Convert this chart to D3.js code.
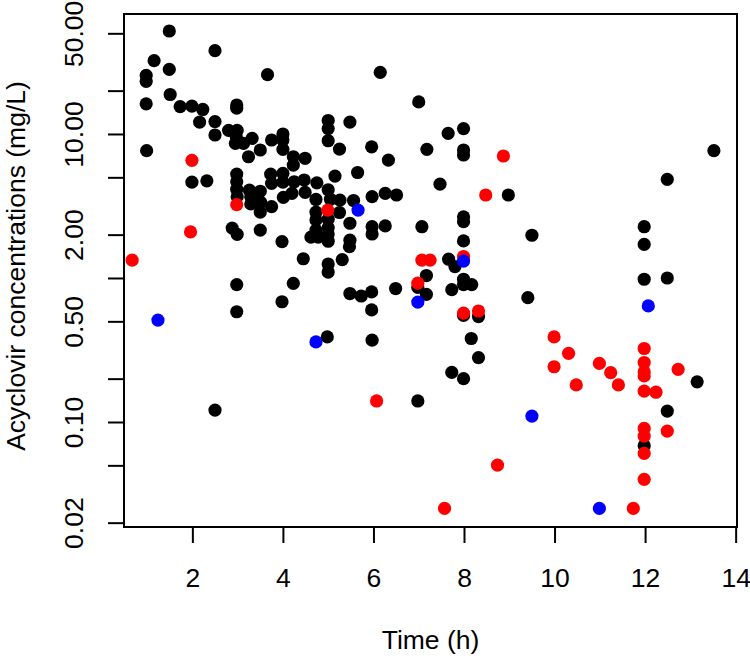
<!DOCTYPE html>
<html>
<head>
<meta charset="utf-8">
<script src="https://cdn.jsdelivr.net/npm/d3@7"></script>
<style>
  html, body { margin: 0; padding: 0; background: #fff; }
  text { font-family: "Liberation Sans", Arial, sans-serif; }
</style>
</head>
<body>
<svg id="chart" width="750" height="658"></svg>
<script>
// ---- data: [time (h), concentration (mg/L)] ----
const blackPoints = [
  [1.49, 51.9], [2.50, 37.9], [1.155, 32.3], [0.98, 25.5], [0.98, 23.2], [1.49, 28.1], [1.51, 18.8],
  [0.98, 16.2], [1.73, 15.5], [1.99, 15.6], [2.23, 14.8], [2.16, 12.1], [2.50, 12.2], [2.50, 9.84],
  [2.80, 10.6], [0.99, 7.66], [1.99, 4.63], [2.32, 4.73], [2.50, 0.121],
  [3.66, 25.8], [6.15, 26.8],
  [2.98, 15.9], [2.98, 15.1], [2.99, 10.6], [2.97, 9.57], [2.95, 8.61], [3.13, 8.61], [3.32, 9.33],
  [2.98, 5.27], [2.98, 4.66], [2.98, 4.13], [2.99, 3.67], [2.88, 2.22], [2.99, 2.01], [2.98, 0.90], [2.98, 0.583],
  [3.24, 6.95], [3.5, 7.74], [3.26, 4.08], [3.29, 3.67], [3.29, 3.27], [3.5, 4.0], [3.51, 3.35], [3.5, 2.87], [3.5, 2.15],
  [3.75, 9.08], [3.75, 3.13], [3.75, 4.54], [3.73, 5.27],
  [4.0, 10.0], [4.0, 9.08], [4.0, 7.82], [4.0, 5.33], [4.0, 4.63], [4.01, 3.63], [3.98, 1.79], [3.98, 0.684],
  [4.23, 6.95], [4.49, 6.78], [4.23, 6.08], [4.2, 3.87], [4.25, 4.66], [4.47, 4.79], [4.49, 3.93], [4.45, 1.36], [4.23, 0.918],
  [4.75, 4.58], [4.73, 3.51], [4.73, 2.87], [4.73, 2.53], [4.73, 2.15], [4.62, 1.92], [4.78, 1.92],
  [5.0, 12.4], [5.0, 10.9], [5.0, 8.98], [5.0, 4.1], [5.15, 5.10], [5.05, 3.52], [5.26, 3.47], [5.0, 2.56],
  [5.0, 2.24], [5.0, 2.02], [5.0, 1.80], [5.25, 2.85], [5.0, 1.25], [5.0, 1.10], [5.31, 1.34],
  [5.48, 12.1], [5.25, 7.85], [5.56, 3.45], [5.65, 5.4], [5.48, 2.40], [5.48, 1.83], [5.47, 1.65], [5.48, 0.78], [5.73, 0.75],
  [5.96, 8.14], [5.97, 3.67], [5.97, 2.27], [5.97, 2.02], [6.26, 3.87], [6.51, 3.77], [6.26, 2.3], [5.96, 0.80],
  [5.96, 0.60], [6.33, 6.59], [6.49, 0.845],
  [7.0, 16.7], [7.18, 7.82], [7.65, 10.1], [7.99, 10.9], [7.99, 7.74], [7.99, 7.15], [7.47, 4.48], [7.07, 2.27],
  [7.99, 2.66], [7.99, 2.46], [7.99, 1.81], [7.17, 1.04], [7.17, 0.77], [6.98, 0.86], [7.66, 1.35], [7.8, 1.2],
  [7.99, 0.98], [7.99, 0.90], [8.17, 0.90], [7.73, 0.83], [7.99, 0.55], [8.32, 0.54],
  [13.52, 7.66], [12.49, 4.84], [8.98, 3.77], [9.50, 1.98], [11.98, 2.27], [11.98, 1.71], [11.98, 0.98],
  [12.49, 1.0], [9.41, 0.73],
  [4.98, 0.39], [5.97, 0.37], [6.98, 0.14], [8.16, 0.38], [8.32, 0.28], [7.73, 0.221], [7.99, 0.20],
  [13.15, 0.19], [12.49, 0.119], [11.98, 0.0684]
];
const redPoints = [
  [1.99, 6.56], [1.96, 2.09], [0.67, 1.33], [2.98, 3.23], [4.99, 2.96], [7.07, 1.33], [7.25, 1.33], [6.98, 0.92],
  [7.99, 1.41], [7.99, 0.57], [8.32, 0.59], [8.87, 7.03], [8.48, 3.77], [6.07, 0.14], [9.99, 0.39], [10.31, 0.30],
  [9.99, 0.242], [10.48, 0.181], [10.99, 0.255], [11.24, 0.22], [11.41, 0.181], [11.98, 0.324], [11.98, 0.259],
  [11.98, 0.223], [11.98, 0.209], [11.98, 0.164], [12.24, 0.161], [12.73, 0.232], [12.49, 0.0865], [11.98, 0.0903],
  [11.98, 0.0798], [11.98, 0.0605], [11.98, 0.04], [8.74, 0.0502], [7.57, 0.0251], [11.74, 0.0251]
];
const bluePoints = [
  [1.24, 0.51], [5.66, 2.96], [6.98, 0.68], [7.99, 1.31], [12.07, 0.64], [4.73, 0.36], [9.5, 0.110], [10.99, 0.0251]
];
const xTicks = [2, 4, 6, 8, 10, 12, 14];
const yTicks = [50, 20, 10, 5, 2, 1, 0.5, 0.2, 0.1, 0.05, 0.02];
const yTickLabels = ["50.00", "", "10.00", "", "2.00", "", "0.50", "", "0.10", "", "0.02"];
const xTitle = "Time (h)";
const yTitle = "Acyclovir concentrations (mg/L)";

// ---- layout ----
const svg = d3.select("#chart");
const box = { left: 124, right: 737, top: 14, bottom: 527 };
const FONT = 26.5;

const x = d3.scaleLinear().domain([0.49, 14.03]).range([box.left, box.right]);
const y = d3.scaleLog().domain([68.1, 0.01866]).range([box.top, box.bottom]);

// points: black first, then red, then blue
const groups = [
  { data: blackPoints, color: "#000000" },
  { data: redPoints, color: "#FF0000" },
  { data: bluePoints, color: "#0000FF" }
];
groups.forEach(g => {
  svg.append("g").selectAll("circle").data(g.data).enter().append("circle")
    .attr("cx", d => x(d[0]))
    .attr("cy", d => y(d[1]))
    .attr("r", 6.6)
    .attr("fill", g.color);
});

// box
svg.append("rect")
  .attr("x", box.left).attr("y", box.top)
  .attr("width", box.right - box.left).attr("height", box.bottom - box.top)
  .attr("fill", "none").attr("stroke", "#000").attr("stroke-width", 2);

// x axis
const xAxis = d3.axisBottom(x).tickValues(xTicks).tickSize(16).tickFormat(d3.format("d"));
const gx = svg.append("g").attr("transform", `translate(0,${box.bottom})`).call(xAxis);
gx.select(".domain").attr("d", `M${x(xTicks[0])},0H${x(xTicks[xTicks.length - 1])}`).attr("stroke-width", 2);
gx.selectAll(".tick line").attr("stroke-width", 2);
gx.selectAll(".tick text").attr("font-size", FONT).attr("font-family", "Liberation Sans, Arial, sans-serif")
  .attr("fill", "#000").attr("dy", null).attr("y", 0)
  .attr("transform", "translate(0,60)");

// y axis
const yAxis = d3.axisLeft(y).tickValues(yTicks).tickSize(16).tickFormat((d, i) => yTickLabels[i]);
const gy = svg.append("g").attr("transform", `translate(${box.left},0)`).call(yAxis);
gy.select(".domain").attr("d", `M0,${y(yTicks[0])}V${y(yTicks[yTicks.length - 1])}`).attr("stroke-width", 2);
gy.selectAll(".tick line").attr("stroke-width", 2);
gy.selectAll(".tick text")
  .attr("font-size", FONT).attr("font-family", "Liberation Sans, Arial, sans-serif")
  .attr("fill", "#000")
  .attr("x", null).attr("dy", null)
  .attr("text-anchor", "middle")
  .attr("transform", `translate(${83 - box.left},0) rotate(-90)`);

// titles
svg.append("text")
  .attr("x", (box.left + box.right) / 2).attr("y", 649)
  .attr("text-anchor", "middle").attr("font-size", FONT).attr("fill", "#000")
  .text(xTitle);
svg.append("text")
  .attr("transform", `translate(24.5,266) rotate(-90)`)
  .attr("text-anchor", "middle").attr("font-size", FONT).attr("fill", "#000")
  .text(yTitle);
</script>
</body>
</html>
